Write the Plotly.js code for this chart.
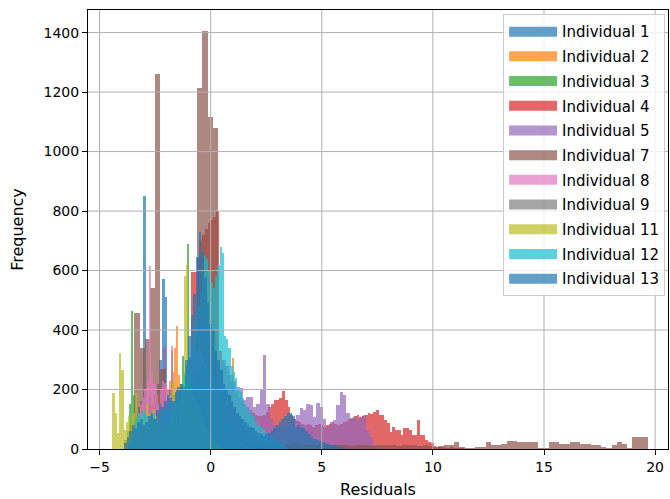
<!DOCTYPE html>
<html>
<head>
<meta charset="utf-8">
<script src="https://cdn.plot.ly/plotly-3.0.1.min.js"></script>
<style>
  html, body { margin: 0; padding: 0; background: #ffffff; }
  #chart { width: 670px; height: 499px; }
</style>
</head>
<body>
<div id="chart"></div>
<script>
// ---- Data: histogram counts per individual (each with its own bin start and bin width) ----
const names = ["Individual 1", "Individual 2", "Individual 3", "Individual 4", "Individual 5",
  "Individual 7", "Individual 8", "Individual 9", "Individual 11", "Individual 12", "Individual 13"];

const ind1Start = -3.51, ind1Width = 0.12;
const ind1Counts = [20, 40, 60, 90, 850, 120, 150, 130, 180, 220, 300, 570, 510, 200, 160, 140, 120, 180, 210, 180,
  150, 170, 200, 240, 300, 350, 380, 360, 330, 300, 260, 220, 190, 160, 140, 120, 100, 90, 80, 70,
  60, 55, 50, 45, 40, 35, 30, 25, 20, 15];

const ind2Start = -3.56, ind2Width = 0.1;
const ind2Counts = [10, 20, 35, 50, 70, 90, 110, 120, 140, 150, 170, 160, 180, 150, 140, 160, 200, 230, 260, 340,
  413, 250, 200, 180, 190, 220, 260, 300, 330, 360, 380, 400, 420, 430, 410, 390, 360, 330, 300, 270,
  240, 220, 200, 190, 200, 305, 150, 120, 90, 60, 40, 20];

const ind3Start = -3.78, ind3Width = 0.1;
const ind3Counts = [60, 150, 465, 180, 120, 140, 160, 130, 110, 150, 170, 140, 120, 100, 130, 150, 140, 120, 160, 200,
  330, 180, 150, 170, 220, 312, 260, 690, 280, 300, 320, 330, 340, 330, 310, 290, 270, 240, 210, 180,
  150, 120, 100, 80, 60, 45, 30, 20, 10, 5];

const ind4Start = -1.0, ind4Width = 0.124;
const ind4Counts = [300, 595, 595, 640, 700, 720, 740, 760, 770, 780, 800, 330, 300, 280, 250, 230, 210, 190, 175, 160,
  150, 140, 130, 120, 115, 110, 110, 115, 125, 140, 150, 164, 164, 170, 195, 164, 141, 114, 100, 95,
  90, 85, 80, 85, 80, 75, 80, 85, 80, 75, 80, 85, 90, 85, 80, 85, 90, 95, 100, 105,
  110, 115, 108, 110, 115, 120, 118, 125, 131, 114, 114, 97, 87, 57, 74, 64, 64, 47, 70, 70,
  64, 47, 47, 97, 47, 47, 30, 24, 20, 10, 8, 6, 8, 5, 4, 6, 3, 4, 2, 3];

const ind5Start = -2.3, ind5Width = 0.15;
const ind5Counts = [40, 343, 120, 100, 130, 150, 160, 180, 200, 230, 260, 290, 320, 340, 350, 340, 320, 300, 280, 300,
  280, 250, 230, 210, 205, 165, 175, 175, 141, 150, 198, 315, 150, 100, 80, 70, 65, 70, 80, 95,
  100, 114, 138, 130, 151, 148, 107, 155, 141, 100, 74, 90, 97, 148, 191, 181, 121, 104, 107, 100,
  107, 114, 60, 40, 15, 5];

const ind7Start = -3.91, ind7Width = 0.236;
const ind7Counts = [30, 80, 456, 340, 370, 540, 1260, 268, 150, 90, 200, 120, 60, 200, 1215, 1407, 1115, 1080, 180, 90,
  60, 40, 30, 25, 22, 20, 18, 20, 22, 18, 15, 18, 20, 16, 14, 15, 18, 16, 14, 12,
  14, 15, 12, 10, 12, 14, 12, 10, 12, 15, 14, 12, 10, 12, 15, 12, 10, 12, 10, 8,
  10, 12, 12, 25, 8, 5, 5, 8, 8, 25, 12, 12, 18, 27, 27, 25, 25, 25, 25, 5,
  5, 25, 25, 16, 16, 25, 25, 16, 16, 14, 14, 8, 4, 12, 25, 18, 4, 40, 40, 40];

const ind8Start = -3.58, ind8Width = 0.1;
const ind8Counts = [30, 60, 90, 120, 150, 170, 200, 230, 614, 260, 220, 180, 150, 200, 230, 222, 200, 180, 345, 170,
  150, 160, 180, 200, 220, 250, 280, 300, 320, 330, 340, 330, 310, 290, 260, 230, 200, 170, 140, 110,
  90, 70, 50, 35, 20, 10];

const ind9Start = -3.0, ind9Width = 0.1;
const ind9Counts = [5, 8, 12, 15, 20, 25, 30, 38, 45, 55, 65, 75, 90, 100, 115, 130, 145, 160, 180, 195,
  210, 225, 240, 255, 265, 275, 280, 278, 270, 260, 245, 230, 210, 190, 170, 150, 130, 110, 95, 80,
  65, 52, 42, 33, 25, 18, 12, 8, 5, 3];

const ind11Start = -4.42, ind11Width = 0.1;
const ind11Counts = [188, 120, 54, 322, 265, 64, 90, 110, 80, 120, 188, 100, 90, 110, 100, 150, 120, 100, 130, 110,
  97, 80, 70, 90, 60, 80, 100, 222, 150, 90, 130, 200, 581, 619, 250, 200, 180, 160, 150, 130,
  110, 90, 70, 55, 40, 30, 20, 12, 8, 4];

const ind12Start = -3.7, ind12Width = 0.1;
const ind12Counts = [20, 40, 70, 100, 120, 110, 130, 120, 110, 100, 110, 120, 100, 90, 110, 130, 140, 130, 150, 160,
  150, 170, 190, 200, 220, 250, 280, 310, 350, 390, 430, 480, 530, 600, 650, 640, 600, 560, 540, 580,
  620, 680, 660, 380, 370, 340, 280, 260, 240, 200, 190, 170, 150, 140, 130, 115, 110, 90, 80, 74,
  70, 60, 55, 45, 40, 35, 30, 25, 20, 15, 10, 5];

const ind13Start = -3.9, ind13Width = 0.12;
const ind13Counts = [20, 40, 60, 80, 70, 90, 100, 80, 90, 110, 120, 100, 130, 150, 140, 160, 180, 170, 160, 190,
  210, 220, 208, 300, 380, 450, 520, 645, 728, 662, 578, 490, 420, 400, 330, 300, 265, 220, 200, 180,
  160, 140, 120, 110, 100, 90, 80, 75, 70, 60, 55, 50, 45, 50, 55, 60, 70, 80, 90, 100,
  110, 121, 121, 110, 74, 80, 74, 70, 60, 50, 40, 35, 30, 28, 25, 20, 18, 15, 12, 10,
  8, 6, 4];

const xTickVals = [-5, 0, 5, 10, 15, 20];
const yTickVals = [0, 200, 400, 600, 800, 1000, 1200, 1400];

// ---- Styling ----
const colors = ["#1f77b4", "#ff7f0e", "#2ca02c", "#d62728", "#9467bd", "#8c564b",
  "#e377c2", "#7f7f7f", "#bcbd22", "#17becf", "#1f77b4"];

const series = [
  [ind1Start, ind1Width, ind1Counts],
  [ind2Start, ind2Width, ind2Counts],
  [ind3Start, ind3Width, ind3Counts],
  [ind4Start, ind4Width, ind4Counts],
  [ind5Start, ind5Width, ind5Counts],
  [ind7Start, ind7Width, ind7Counts],
  [ind8Start, ind8Width, ind8Counts],
  [ind9Start, ind9Width, ind9Counts],
  [ind11Start, ind11Width, ind11Counts],
  [ind12Start, ind12Width, ind12Counts],
  [ind13Start, ind13Width, ind13Counts]
];

const FONT = "DejaVu Sans, Liberation Sans, sans-serif";
const GRID = "#b0b0b0";
const traces = [];
series.forEach(function (s, i) {
  const start = s[0], w = s[1], counts = s[2];
  const centers = counts.map(function (_, k) { return start + w * (k + 0.5); });
  traces.push({
    type: "bar",
    x: centers,
    y: counts,
    width: w,
    name: names[i],
    showlegend: false,
    hoverinfo: "x+y",
    marker: { color: colors[i], line: { width: 0 } },
    opacity: 0.7
  });
});
// legend entries (wide patches like matplotlib)
names.forEach(function (n, i) {
  traces.push({
    type: "scatter",
    x: [null], y: [null],
    mode: "lines",
    name: n,
    legendgroup: "g" + i,
    line: { color: colors[i], width: 11 },
    opacity: 0.7,
    hoverinfo: "skip"
  });
});

// grid drawn above the bars, as in the reference
const shapes = [];
xTickVals.forEach(function (v) {
  shapes.push({ type: "line", layer: "above", xref: "x", yref: "paper", x0: v, x1: v, y0: 0, y1: 1,
    line: { color: GRID, width: 1 } });
});
yTickVals.slice(1).forEach(function (v) {
  shapes.push({ type: "line", layer: "above", xref: "paper", yref: "y", x0: 0, x1: 1, y0: v, y1: v,
    line: { color: GRID, width: 1 } });
});

const axisCommon = {
  showline: true, mirror: true, linecolor: "#000000", linewidth: 1,
  ticks: "outside", ticklen: 5, tickwidth: 1, tickcolor: "#000000",
  showgrid: false,
  zeroline: false,
  tickfont: { family: FONT, size: 14, color: "#000000" }
};

const layout = {
  width: 670, height: 499,
  margin: { l: 88, r: 2, t: 10, b: 50 },
  paper_bgcolor: "#ffffff",
  plot_bgcolor: "#ffffff",
  barmode: "overlay",
  bargap: 0,
  font: { family: FONT, size: 14, color: "#000000" },
  xaxis: Object.assign({}, axisCommon, {
    range: [-5.52, 20.58],
    tickmode: "array", tickvals: xTickVals,
    title: { text: "Residuals", font: { family: FONT, size: 16, color: "#000000" }, standoff: 10 }
  }),
  yaxis: Object.assign({}, axisCommon, {
    range: [0, 1476],
    tickmode: "array", tickvals: yTickVals,
    title: { text: "Frequency", font: { family: FONT, size: 16, color: "#000000" }, standoff: 15 }
  }),
  shapes: shapes,
  legend: {
    x: 0.995, xanchor: "right", y: 0.99, yanchor: "top",
    bgcolor: "rgba(255,255,255,0.8)",
    bordercolor: "#cccccc", borderwidth: 1,
    font: { family: FONT, size: 15, color: "#000000" },
    itemwidth: 48,
    traceorder: "grouped",
    tracegroupgap: 2.2
  },
  showlegend: true
};

Plotly.newPlot("chart", traces, layout, { displayModeBar: false, staticPlot: true });
</script>
</body>
</html>
